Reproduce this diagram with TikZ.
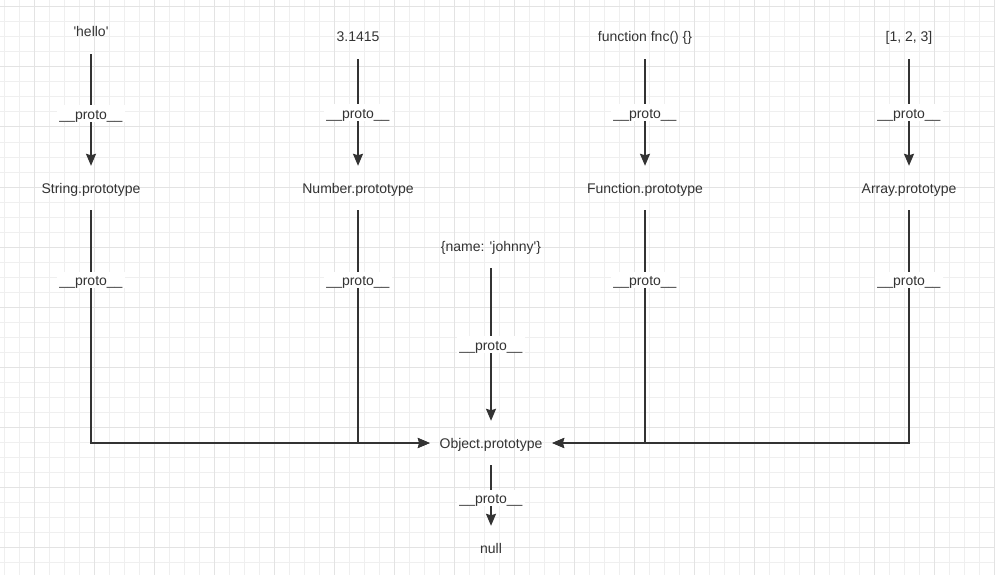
\documentclass[tikz,border=0pt]{standalone}
\usepackage{fontspec}
\setmainfont{Liberation Sans}
\usetikzlibrary{arrows.meta}
\definecolor{ink}{HTML}{333333}
\definecolor{gridminor}{HTML}{EFEFEF}
\definecolor{gridmajor}{HTML}{E3E3E3}
\tikzset{
  txt/.style={inner sep=0pt, minimum height=44pt, text height=10pt, text depth=0pt, text=ink, font=\fontsize{14}{16}\selectfont},
  lbl/.style={fill=white, inner xsep=2pt, inner ysep=1pt, text height=13pt, text depth=1.5pt, text=ink, font=\fontsize{14}{16}\selectfont},
  link/.style={draw=ink, line width=1.7pt, -{Stealth[inset=1.5pt, length=12pt, width=10pt]}},
  minorline/.style={draw=gridminor, line width=1pt},
  majorline/.style={draw=gridmajor, line width=1pt}
}
\begin{document}
\begin{tikzpicture}[x=1pt, y=-1pt]
\useasboundingbox (0,0) rectangle (995,575);
\fill[white] (0,0) rectangle (995,575);
% grid
\foreach \x in {4,19,...,994} \draw[minorline] (\x,0) -- (\x,575);
\foreach \y in {7,22,...,574} \draw[minorline] (0,\y) -- (995,\y);
\foreach \x in {34,94,...,994} \draw[majorline] (\x,0) -- (\x,575);
\foreach \y in {7,67,...,574} \draw[majorline] (0,\y) -- (995,\y);

% nodes
\node[txt] (hello) at (91,32) {\textquotesingle hello\textquotesingle};
\node[txt] (pi) at (358,37) {3.1415};
\node[txt] (fnc) at (645,37) {function fnc() \{\}};
\node[txt] (arr) at (909,37) {[1, 2, 3]};

\node[txt] (strp) at (91,188) {String.prototype};
\node[txt] (nump) at (358,188) {Number.prototype};
\node[txt] (fnp) at (645,188) {Function.prototype};
\node[txt] (arrp) at (909,188) {Array.prototype};

\node[txt] (obj) at (491,246) {\{name: \textquotesingle johnny\textquotesingle\}};
\node[txt, minimum width=122pt] (objp) at (491,443) {Object.prototype};
\node[txt] (null) at (491,548) {null};

% connectors
\draw[link] (hello.south) -- node[lbl, pos=0.53] {\_\_proto\_\_} (strp.north);
\draw[link] (pi.south) -- node[lbl] {\_\_proto\_\_} (nump.north);
\draw[link] (fnc.south) -- node[lbl] {\_\_proto\_\_} (fnp.north);
\draw[link] (arr.south) -- node[lbl] {\_\_proto\_\_} (arrp.north);

\draw[link] (strp.south) |- node[lbl, pos=0.15] {\_\_proto\_\_} (objp.west);
\draw[link] (nump.south) |- node[lbl, pos=0.15] {\_\_proto\_\_} (objp.west);
\draw[link] (fnp.south) |- node[lbl, pos=0.15] {\_\_proto\_\_} (objp.east);
\draw[link] (arrp.south) |- node[lbl, pos=0.15] {\_\_proto\_\_} (objp.east);

\draw[link] (obj.south) -- node[lbl] {\_\_proto\_\_} (objp.north);
\draw[link] (objp.south) -- node[lbl, pos=0.54] {\_\_proto\_\_} (null.north);
\end{tikzpicture}
\end{document}
